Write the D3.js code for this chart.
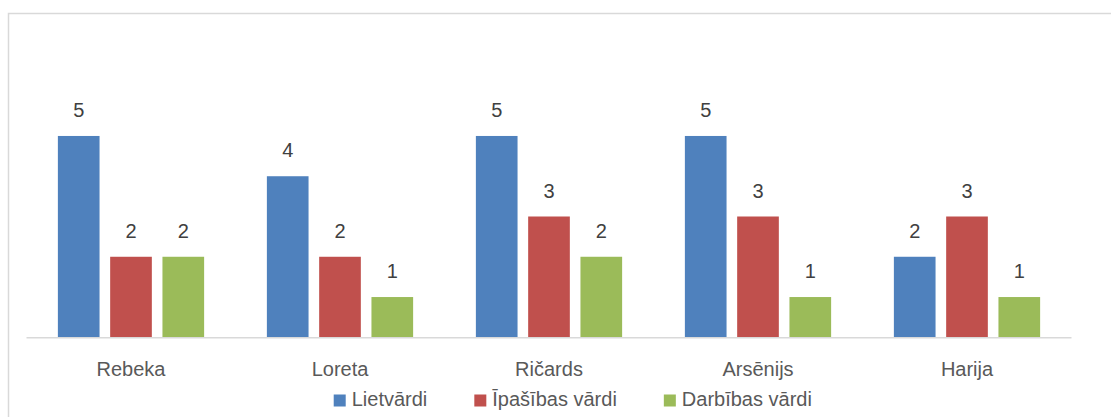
<!DOCTYPE html>
<html>
<head>
<meta charset="utf-8">
<script src="https://cdn.jsdelivr.net/npm/d3@7"></script>
<style>
  body { margin: 0; background: #fff; }
  svg { display: block; font-family: "Liberation Sans", Arial, sans-serif; }
</style>
</head>
<body>
<div id="chart"></div>
<script>
// chart data
const names = ["Rebeka", "Loreta", "Ričards", "Arsēnijs", "Harija"];
const seriesNames = ["Lietvārdi", "Īpašības vārdi", "Darbības vārdi"];
const lietvardi = [5, 4, 5, 5, 2];
const ipasibas = [2, 2, 3, 3, 3];
const darbibas = [2, 1, 2, 1, 1];
const colors = ["#4F81BD", "#C0504D", "#9BBB59"];

const W = 1111, H = 417;
const svg = d3.select("#chart").append("svg")
  .attr("width", W)
  .attr("height", H);

// outer chart border (runs off right and bottom)
svg.append("rect")
  .attr("x", 8.5).attr("y", 13.5)
  .attr("width", W + 10).attr("height", H + 10)
  .attr("fill", "none")
  .attr("stroke", "#d9d9d9")
  .attr("stroke-width", 1.5);

const rows = names.map((n, i) => ({
  name: n,
  vals: [lietvardi[i], ipasibas[i], darbibas[i]]
}));

// Scales
const x0 = d3.scaleBand().domain(names).range([26.5, 1071.5]).padding(0);
const x1 = d3.scaleBand().domain(d3.range(3)).range([0, x0.bandwidth()])
  .paddingInner(0.203).paddingOuter(0.6);
const y = d3.scaleLinear().domain([0, 6]).range([337.3, 95.7]);

const groups = svg.selectAll("g.grp")
  .data(rows)
  .join("g")
  .attr("class", "grp")
  .attr("transform", d => `translate(${x0(d.name)},0)`);

groups.selectAll("rect")
  .data(d => d.vals)
  .join("rect")
  .attr("x", (v, i) => x1(i))
  .attr("width", x1.bandwidth())
  .attr("y", v => y(v))
  .attr("height", v => y(0) - y(v))
  .attr("fill", (v, i) => colors[i]);

// value labels
groups.selectAll("text")
  .data(d => d.vals)
  .join("text")
  .attr("x", (v, i) => x1(i) + x1.bandwidth() / 2)
  .attr("y", v => y(v) - 19)
  .attr("text-anchor", "middle")
  .style("font-size", "20px")
  .style("fill", "#404040")
  .text(v => v);

// baseline
svg.append("line")
  .attr("x1", x0.range()[0]).attr("x2", x0.range()[1])
  .attr("y1", y(0) + 0.5).attr("y2", y(0) + 0.5)
  .attr("stroke", "#d9d9d9")
  .attr("stroke-width", 1.5);

// category labels
const xAxis = svg.append("g")
  .attr("transform", `translate(0,${y(0)})`)
  .call(d3.axisBottom(x0).tickSize(0).tickPadding(0));
xAxis.select(".domain").remove();
xAxis.selectAll("text")
  .attr("dy", null)
  .attr("y", 39)
  .style("font-size", "20px")
  .style("font-family", "Liberation Sans, Arial, sans-serif")
  .style("fill", "#595959");

// legend
const legend = svg.append("g");
const items = legend.selectAll("g")
  .data(seriesNames)
  .join("g");
items.append("rect")
  .attr("width", 12).attr("height", 12)
  .attr("y", 394.5)
  .attr("fill", (d, i) => colors[i]);
items.append("text")
  .attr("x", 18)
  .attr("y", 406)
  .style("font-size", "20px")
  .style("fill", "#595959")
  .text(d => d);

let cx = 0;
const gap = 47;
const offsets = [];
items.each(function() {
  offsets.push(cx);
  const w = 18 + d3.select(this).select("text").node().getComputedTextLength();
  cx += w + gap;
});
const total = cx - gap;
const start = 572.8 - total / 2;
items.attr("transform", (d, i) => `translate(${start + offsets[i]},0)`);
</script>
</body>
</html>
